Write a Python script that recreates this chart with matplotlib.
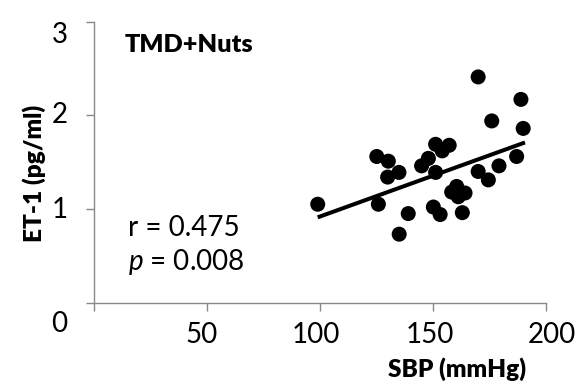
import numpy as np
import matplotlib
matplotlib.use("Agg")
import matplotlib.pyplot as plt
from matplotlib.transforms import ScaledTranslation

# Systolic blood pressure (mmHg) and endothelin-1 (pg/ml) per participant
sbp = [169.9, 188.8, 175.9, 189.8, 151.1, 157.1, 154.0, 125.1, 130.2, 147.9,
       144.9, 186.9, 134.9, 129.9, 151.1, 169.9, 174.4, 179.1, 160.4, 158.2,
       164.1, 161.1, 99.0, 125.8, 150.1, 153.1, 162.9, 139.0, 135.0]
et1 = [2.41, 2.17, 1.94, 1.86, 1.69, 1.68, 1.62, 1.56, 1.51, 1.54,
       1.46, 1.56, 1.39, 1.34, 1.39, 1.40, 1.31, 1.46, 1.24, 1.18,
       1.17, 1.13, 1.05, 1.05, 1.02, 0.94, 0.96, 0.95, 0.73]

# Linear trend line endpoints
fit_x = [99.0, 190.6]
fit_y = [0.91, 1.71]

x_ticks = [0, 50, 100, 150, 200]
x_tick_labels = ["", "50", "100", "150", "200"]
y_ticks = [0, 1, 2, 3]
y_tick_labels = ["0", "1", "2", "3"]

group_label = "TMD+Nuts"
r_text = "r = 0.475"
p_text = r"$\mathit{p}$ = 0.008"

plt.rcParams["font.family"] = ["Lato", "DejaVu Sans"]
plt.rcParams["mathtext.fontset"] = "custom"
plt.rcParams["mathtext.rm"] = "Lato"
plt.rcParams["mathtext.it"] = "Lato:italic"

axis_gray = "#898989"
label_weight = "heavy"

fig = plt.figure(figsize=(5.83, 3.91), dpi=100)
ax = fig.add_axes([0.1607, 0.2263, 0.7763, 0.7182])

ax.scatter(sbp, et1, s=117, color="black", edgecolors="none", zorder=3)
ax.plot(fit_x, fit_y, color="black", lw=2.9, solid_capstyle="butt", zorder=4)

ax.set_xlim(0, 200)
ax.set_ylim(0, 3)
ax.set_xticks(x_ticks)
ax.set_xticklabels(x_tick_labels)
ax.set_yticks(y_ticks)
ax.set_yticklabels(y_tick_labels)

for side in ("top", "right"):
    ax.spines[side].set_visible(False)
for side in ("left", "bottom"):
    ax.spines[side].set_color(axis_gray)
    ax.spines[side].set_linewidth(1.0)

ax.tick_params(axis="both", direction="out", length=5.8, width=1.0,
               color=axis_gray, labelsize=20, labelcolor="black")
ax.tick_params(axis="x", pad=8.5)
ax.tick_params(axis="y", pad=13.0)

# nudge individual tick labels (pixel offsets)
def nudge(label, dx_px, dy_px):
    off = ScaledTranslation(dx_px / 100.0, dy_px / 100.0, fig.dpi_scale_trans)
    label.set_transform(label.get_transform() + off)

x_nudges = [0, -5.4, -4.0, -3.2, 5.7]
for lab, dx in zip(ax.get_xticklabels(), x_nudges):
    nudge(lab, dx, 0)
y_nudges = [-19.4, 1.5, 3.0, -11.0]
for lab, dy in zip(ax.get_yticklabels(), y_nudges):
    nudge(lab, 0, dy)

ax.text(0.069, 0.892, group_label, transform=ax.transAxes,
        fontsize=18.2, fontweight=label_weight, ha="left", va="baseline")
ax.text(0.0758, 0.2368, r_text, transform=ax.transAxes,
        fontsize=20, ha="left", va="baseline")
ax.text(0.0758, 0.1157, p_text, transform=ax.transAxes,
        fontsize=20, ha="left", va="baseline")

ax.text(0.8027, -0.2653, "SBP (mmHg)", transform=ax.transAxes,
        fontsize=17.6, fontweight=label_weight, ha="center", va="baseline")
ax.text(-0.1149, 0.461, "ET-1 (pg/ml)", transform=ax.transAxes,
        fontsize=17.6, fontweight=label_weight, ha="center", va="baseline",
        rotation=90, rotation_mode="anchor")

fig.savefig("out.png", dpi=100)
